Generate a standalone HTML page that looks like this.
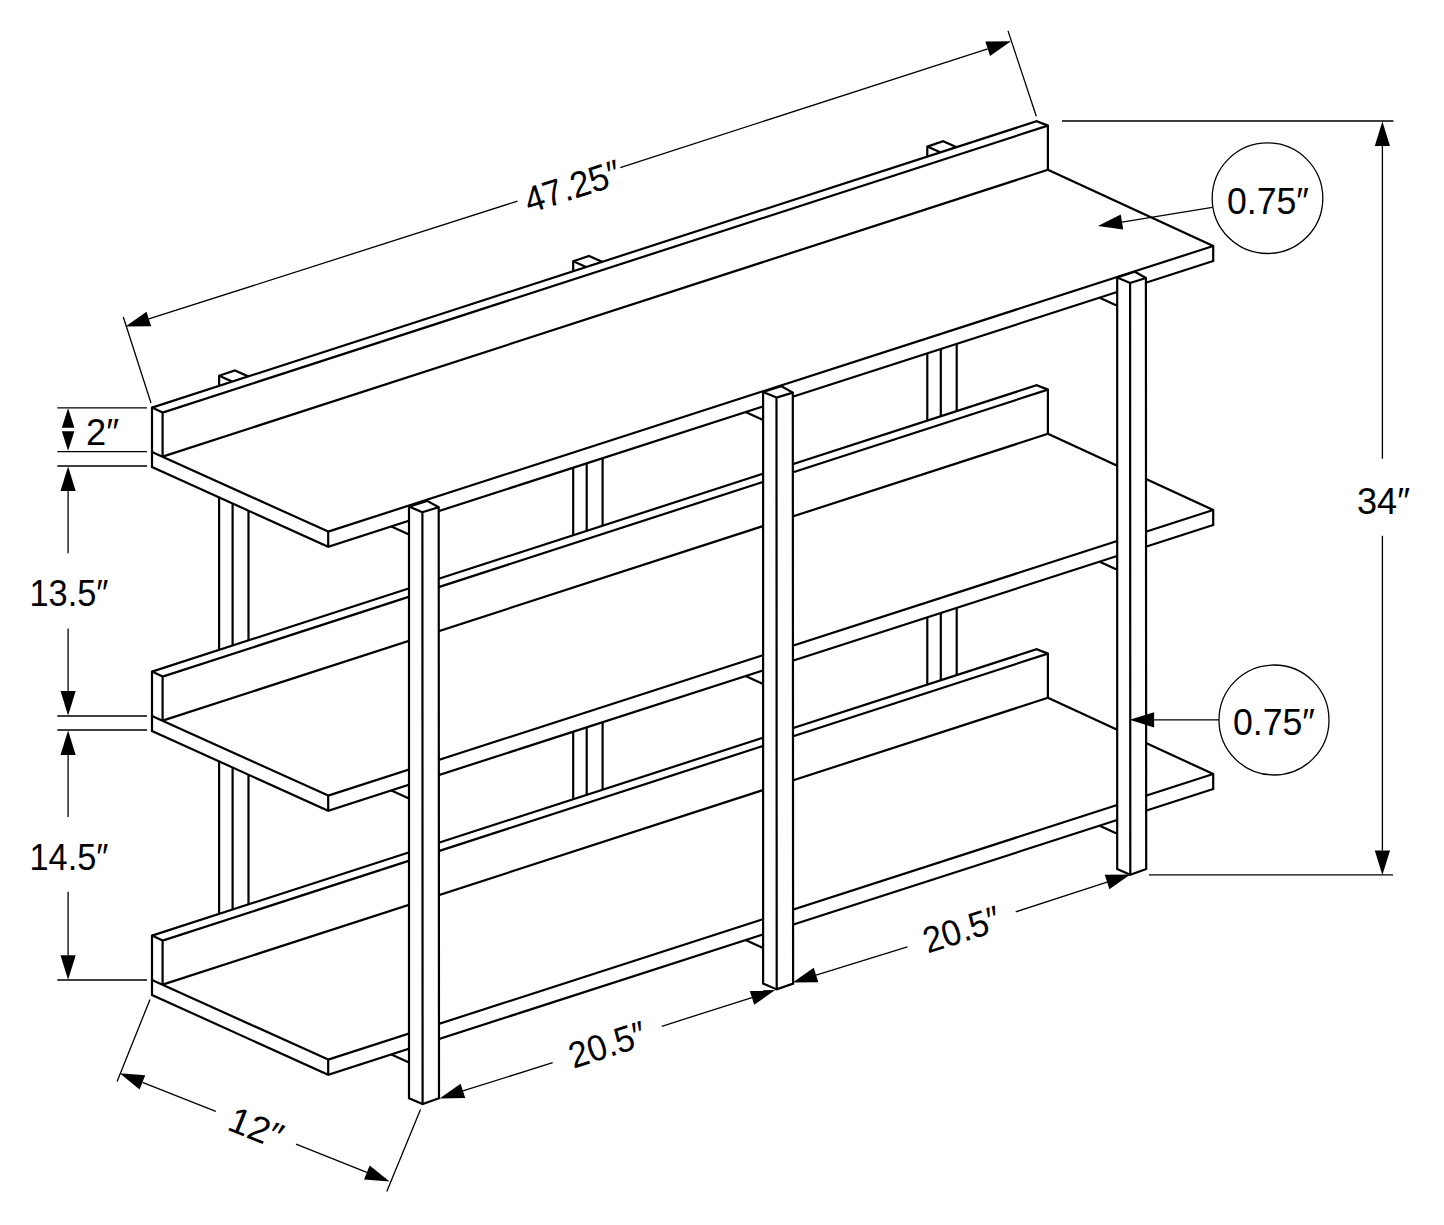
<!DOCTYPE html>
<html><head><meta charset="utf-8"><style>
html,body{margin:0;padding:0;background:#fff;}
svg{display:block;}
text{font-family:"Liberation Sans",sans-serif;fill:#000;}
</style></head><body>
<svg width="1444" height="1225" viewBox="0 0 1444 1225">
<rect width="1444" height="1225" fill="#fff"/>
<polygon points="219.1,375.8 234.9,370.5 248.5,376.5 248.5,996.5 232.6,1001.8 219.1,995.8" fill="#fff" stroke="none" stroke-width="2.2" stroke-linejoin="miter"/>
<path d="M219.1 375.8 L234.9 370.5 L248.5 376.5 L248.5 996.5 L232.6 1001.8 L219.1 995.8 Z" stroke="#000" stroke-width="2.2" fill="none" stroke-linejoin="miter"/>
<path d="M219.1 375.8L232.6 381.8M232.6 381.8L248.5 376.5M232.6 381.8L232.6 1001.8" stroke="#000" stroke-width="2.2" fill="none" stroke-linecap="butt"/>
<polygon points="573.2,261.2 589,255.9 602.6,261.9 602.6,881.9 586.7,887.2 573.2,881.2" fill="#fff" stroke="none" stroke-width="2.2" stroke-linejoin="miter"/>
<path d="M573.2 261.2 L589 255.9 L602.6 261.9 L602.6 881.9 L586.7 887.2 L573.2 881.2 Z" stroke="#000" stroke-width="2.2" fill="none" stroke-linejoin="miter"/>
<path d="M573.2 261.2L586.7 267.2M586.7 267.2L602.6 261.9M586.7 267.2L586.7 887.2" stroke="#000" stroke-width="2.2" fill="none" stroke-linecap="butt"/>
<polygon points="927.3,146.6 943.1,141.3 956.7,147.3 956.7,767.3 940.8,772.6 927.3,766.6" fill="#fff" stroke="none" stroke-width="2.2" stroke-linejoin="miter"/>
<path d="M927.3 146.6 L943.1 141.3 L956.7 147.3 L956.7 767.3 L940.8 772.6 L927.3 766.6 Z" stroke="#000" stroke-width="2.2" fill="none" stroke-linejoin="miter"/>
<path d="M927.3 146.6L940.8 152.6M940.8 152.6L956.7 147.3M940.8 152.6L940.8 772.6" stroke="#000" stroke-width="2.2" fill="none" stroke-linecap="butt"/>
<polygon points="152,407.6 1036.6,121.2 1047.9,125.6 1047.9,169.8 1213.2,246 1213.2,261 328.2,546.8 152,467" fill="#fff" stroke="none" stroke-width="2.2" stroke-linejoin="miter"/>
<path d="M152 407.6 L1036.6 121.2 L1047.9 125.6 L1047.9 169.8 L1213.2 246 L1213.2 261 L328.2 546.8 L152 467 Z" stroke="#000" stroke-width="2.2" fill="none" stroke-linejoin="miter"/>
<path d="M152 407.6L162.6 412.6M162.6 412.6L1047.9 125.6M162.6 412.6L162.6 456.6M162.6 456.6L1047.9 169.8M152 452L328.2 531.6M328.2 531.6L1213.2 246M328.2 531.6L328.2 546.8" stroke="#000" stroke-width="2.2" fill="none" stroke-linecap="butt"/>
<polygon points="152,671.6 1036.6,385.2 1047.9,389.6 1047.9,433.8 1213.2,510 1213.2,525 328.2,810.8 152,731" fill="#fff" stroke="none" stroke-width="2.2" stroke-linejoin="miter"/>
<path d="M152 671.6 L1036.6 385.2 L1047.9 389.6 L1047.9 433.8 L1213.2 510 L1213.2 525 L328.2 810.8 L152 731 Z" stroke="#000" stroke-width="2.2" fill="none" stroke-linejoin="miter"/>
<path d="M152 671.6L162.6 676.6M162.6 676.6L1047.9 389.6M162.6 676.6L162.6 720.6M162.6 720.6L1047.9 433.8M152 716L328.2 795.6M328.2 795.6L1213.2 510M328.2 795.6L328.2 810.8" stroke="#000" stroke-width="2.2" fill="none" stroke-linecap="butt"/>
<polygon points="152,935.6 1036.6,649.2 1047.9,653.6 1047.9,697.8 1213.2,774 1213.2,789 328.2,1074.8 152,995" fill="#fff" stroke="none" stroke-width="2.2" stroke-linejoin="miter"/>
<path d="M152 935.6 L1036.6 649.2 L1047.9 653.6 L1047.9 697.8 L1213.2 774 L1213.2 789 L328.2 1074.8 L152 995 Z" stroke="#000" stroke-width="2.2" fill="none" stroke-linejoin="miter"/>
<path d="M152 935.6L162.6 940.6M162.6 940.6L1047.9 653.6M162.6 940.6L162.6 984.6M162.6 984.6L1047.9 697.8M152 980L328.2 1059.6M328.2 1059.6L1213.2 774M328.2 1059.6L328.2 1074.8" stroke="#000" stroke-width="2.2" fill="none" stroke-linecap="butt"/>
<path d="M391.4 526.4L409 534.4M745.5 412.1L763.1 420.1M1099.6 297.79L1117.2 305.79M391.4 790.4L409 798.4M745.5 676.1L763.1 684.1M1099.6 561.79L1117.2 569.79M391.4 1054.4L409 1062.4M745.5 940.1L763.1 948.1M1099.6 825.79L1117.2 833.79" stroke="#000" stroke-width="2.2" fill="none" stroke-linecap="butt"/>
<polygon points="409,506.6 427.2,500.9 438.7,507.2 439,1098.2 422.6,1104 409,1098.2" fill="#fff" stroke="none" stroke-width="2.2" stroke-linejoin="miter"/>
<path d="M409 506.6 L427.2 500.9 L438.7 507.2 L439 1098.2 L422.6 1104 L409 1098.2 Z" stroke="#000" stroke-width="2.2" fill="none" stroke-linejoin="miter"/>
<path d="M409 506.6L422.4 512.2M422.4 512.2L438.7 507.2M422.4 512.2L422.6 1104" stroke="#000" stroke-width="2.2" fill="none" stroke-linecap="butt"/>
<polygon points="763.1,392 781.3,386.3 792.8,392.6 793.1,983.6 776.7,989.4 763.1,983.6" fill="#fff" stroke="none" stroke-width="2.2" stroke-linejoin="miter"/>
<path d="M763.1 392 L781.3 386.3 L792.8 392.6 L793.1 983.6 L776.7 989.4 L763.1 983.6 Z" stroke="#000" stroke-width="2.2" fill="none" stroke-linejoin="miter"/>
<path d="M763.1 392L776.5 397.6M776.5 397.6L792.8 392.6M776.5 397.6L776.7 989.4" stroke="#000" stroke-width="2.2" fill="none" stroke-linecap="butt"/>
<polygon points="1117.2,277.4 1134.9,271.7 1145.9,278 1146.2,869 1130.3,874.8 1117.2,869" fill="#fff" stroke="none" stroke-width="2.2" stroke-linejoin="miter"/>
<path d="M1117.2 277.4 L1134.9 271.7 L1145.9 278 L1146.2 869 L1130.3 874.8 L1117.2 869 Z" stroke="#000" stroke-width="2.2" fill="none" stroke-linejoin="miter"/>
<path d="M1117.2 277.4L1130.1 283M1130.1 283L1145.9 278M1130.1 283L1130.3 874.8" stroke="#000" stroke-width="2.2" fill="none" stroke-linecap="butt"/>
<path d="M123.3 317L151 403M1008 30.9L1036.3 116.2" stroke="#000" stroke-width="1.3" fill="none" stroke-linecap="butt"/>
<polygon points="125.5,326.5 146.49,311.76 151.15,326.22" fill="#000"/>
<polygon points="1011,41.3 990.01,56.04 985.35,41.58" fill="#000"/>
<path d="M148.82 318.99L517.5 201.1M620.3 167.6L987.68 48.81" stroke="#000" stroke-width="1.3" fill="none" stroke-linecap="butt"/>
<text x="576.28" y="198.39" font-size="36.5" text-anchor="middle" textLength="99" lengthAdjust="spacingAndGlyphs" transform="rotate(-17.85 576.28 198.39)">47.25″</text>
<path d="M1062 121L1393.5 121M1149 874.9L1393 874.9" stroke="#000" stroke-width="1.3" fill="none" stroke-linecap="butt"/>
<polygon points="1382.4,121.6 1390,146.1 1374.8,146.1" fill="#000"/>
<polygon points="1382.4,874.9 1374.8,850.4 1390,850.4" fill="#000"/>
<path d="M1382.4 146.1L1382.4 458.8M1382.4 535.8L1382.4 850.4" stroke="#000" stroke-width="1.3" fill="none" stroke-linecap="butt"/>
<text x="1357" y="513.7" font-size="36.5" text-anchor="start" textLength="53" lengthAdjust="spacingAndGlyphs">34″</text>
<circle cx="1267.5" cy="198.2" r="55.3" fill="none" stroke="#000" stroke-width="1.3"/>
<polygon points="1097.8,226 1120.76,214.57 1123.2,229.57" fill="#000"/>
<path d="M1212.3 207.4L1121.98 222.07" stroke="#000" stroke-width="1.3" fill="none" stroke-linecap="butt"/>
<text x="1227" y="213.6" font-size="36.5" text-anchor="start" textLength="82" lengthAdjust="spacingAndGlyphs">0.75″</text>
<circle cx="1274" cy="720" r="55" fill="none" stroke="#000" stroke-width="1.3"/>
<polygon points="1129.6,719.8 1154.1,712.2 1154.1,727.4" fill="#000"/>
<path d="M1219 719.8L1154.1 719.8" stroke="#000" stroke-width="1.3" fill="none" stroke-linecap="butt"/>
<text x="1233" y="734.8" font-size="36.5" text-anchor="start" textLength="82" lengthAdjust="spacingAndGlyphs">0.75″</text>
<path d="M57.3 407.8L147 407.8M57.3 451.6L147 451.6M57.3 466L147 466M57.3 716L147 716M57.3 730L147 730M57.3 980L147 980" stroke="#000" stroke-width="1.3" fill="none" stroke-linecap="butt"/>
<polygon points="68.1,408.2 74.4,427.8 61.8,427.8" fill="#000"/>
<polygon points="68.1,450.8 61.8,431.2 74.4,431.2" fill="#000"/>
<text x="86" y="444.9" font-size="36.5" text-anchor="start" textLength="33" lengthAdjust="spacingAndGlyphs">2″</text>
<polygon points="68.1,466.5 75.7,491 60.5,491" fill="#000"/>
<path d="M68.1 491L68.1 553.3" stroke="#000" stroke-width="1.3" fill="none" stroke-linecap="butt"/>
<text x="29.5" y="605.9" font-size="36.5" text-anchor="start" textLength="79" lengthAdjust="spacingAndGlyphs">13.5″</text>
<polygon points="68.1,715.6 60.5,691.1 75.7,691.1" fill="#000"/>
<path d="M68.1 628.5L68.1 691.1" stroke="#000" stroke-width="1.3" fill="none" stroke-linecap="butt"/>
<polygon points="68.1,730.4 75.7,754.9 60.5,754.9" fill="#000"/>
<path d="M68.1 754.9L68.1 817" stroke="#000" stroke-width="1.3" fill="none" stroke-linecap="butt"/>
<text x="29.5" y="869.5" font-size="36.5" text-anchor="start" textLength="79" lengthAdjust="spacingAndGlyphs">14.5″</text>
<polygon points="68.1,979.8 60.5,955.3 75.7,955.3" fill="#000"/>
<path d="M68.1 891.8L68.1 955.3" stroke="#000" stroke-width="1.3" fill="none" stroke-linecap="butt"/>
<path d="M150 999.5L117.1 1081.5M420.5 1109.5L386.8 1191.6" stroke="#000" stroke-width="1.3" fill="none" stroke-linecap="butt"/>
<polygon points="119.7,1073.2 145.27,1075.28 139.6,1089.38" fill="#000"/>
<polygon points="389.6,1181.6 364.03,1179.52 369.7,1165.42" fill="#000"/>
<path d="M142.43 1082.33L215.8 1111.3M296 1144.2L366.87 1172.47" stroke="#000" stroke-width="1.3" fill="none" stroke-linecap="butt"/>
<text x="251.19" y="1139.49" font-size="36.5" text-anchor="middle" textLength="55" lengthAdjust="spacingAndGlyphs" transform="rotate(21.88 251.19 1139.49)">12″</text>
<polygon points="439.6,1098.4 460.58,1083.64 465.25,1098.1" fill="#000"/>
<polygon points="775.2,990 754.22,1004.76 749.55,990.3" fill="#000"/>
<path d="M462.91 1090.87L552.7 1062.7M661.8 1026.3L751.89 997.53" stroke="#000" stroke-width="1.3" fill="none" stroke-linecap="butt"/>
<text x="611.14" y="1056.54" font-size="36.5" text-anchor="middle" textLength="79" lengthAdjust="spacingAndGlyphs" transform="rotate(-17.9 611.14 1056.54)">20.5″</text>
<polygon points="792.7,982.5 813.72,967.8 818.35,982.28" fill="#000"/>
<polygon points="1130.4,874.6 1109.38,889.3 1104.75,874.82" fill="#000"/>
<path d="M816.04 975.04L907.4 946.9M1015.7 911.9L1107.06 882.06" stroke="#000" stroke-width="1.3" fill="none" stroke-linecap="butt"/>
<text x="965.4" y="941.45" font-size="36.5" text-anchor="middle" textLength="79" lengthAdjust="spacingAndGlyphs" transform="rotate(-17.72 965.4 941.45)">20.5″</text>
</svg>
</body></html>
